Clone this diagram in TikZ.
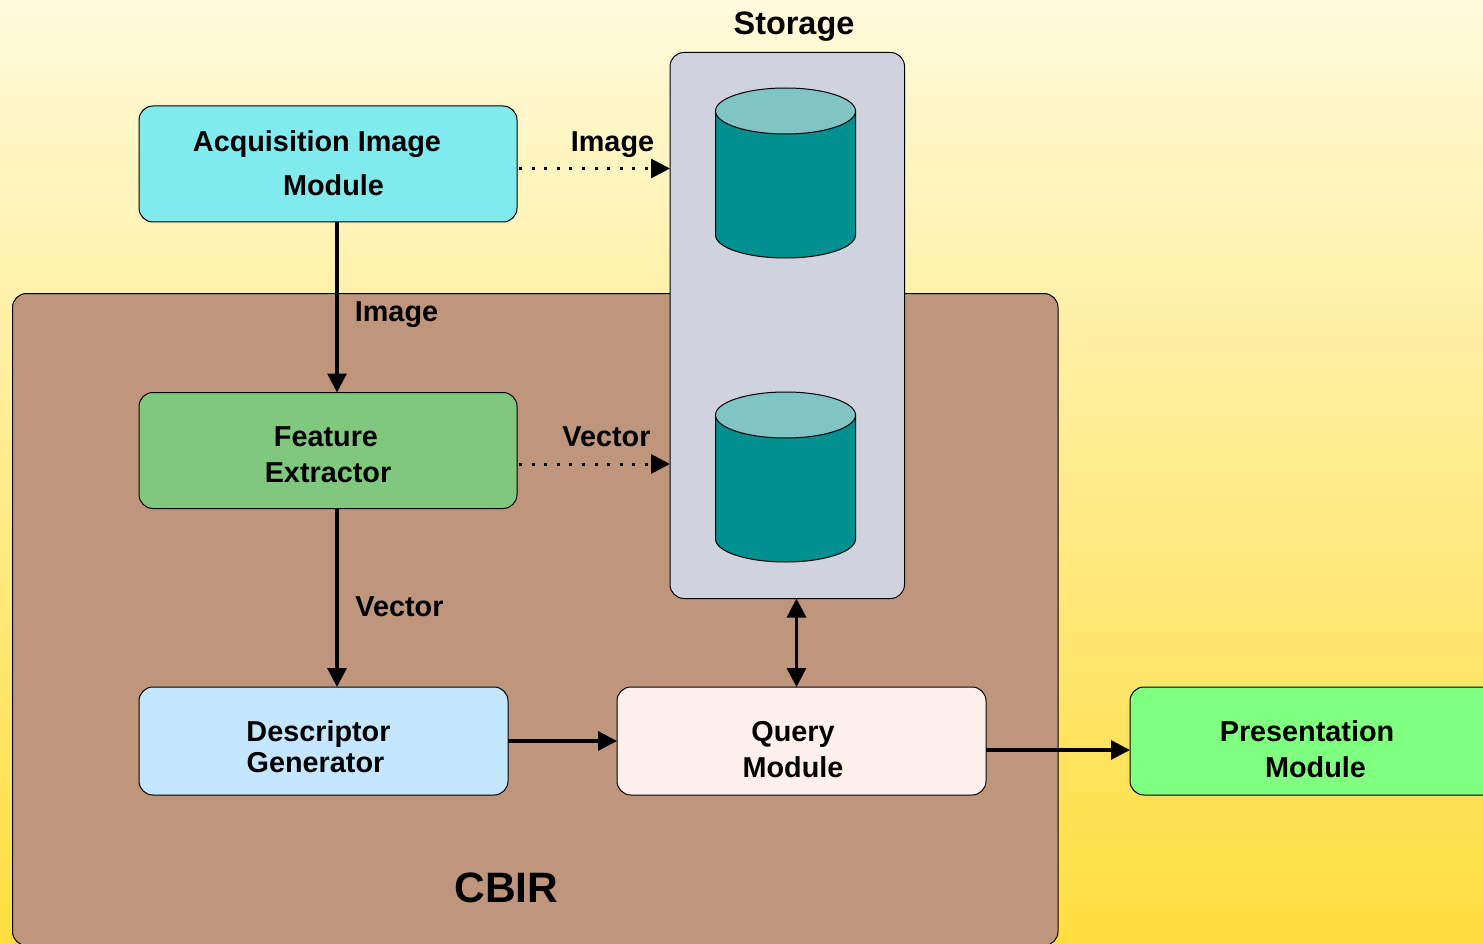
\documentclass[tikz,border=0pt]{standalone}
\usepackage{fontspec}
\setmainfont{Liberation Sans}
\usetikzlibrary{arrows.meta,calc}
\definecolor{bgtop}{HTML}{FFFADC}
\definecolor{bgbot}{HTML}{FFDD3E}
\definecolor{cbirc}{HTML}{BF967C}
\definecolor{storec}{HTML}{D0D3DE}
\definecolor{acqc}{HTML}{80EAEC}
\definecolor{featc}{HTML}{80C87E}
\definecolor{descc}{HTML}{C4E6FF}
\definecolor{queryc}{HTML}{FFF0EE}
\definecolor{presc}{HTML}{80FF80}
\definecolor{cylc}{HTML}{009090}
\definecolor{cyltop}{HTML}{80C4C4}
\tikzset{
  panel/.style={draw=black,line width=1pt,rounded corners=14pt,outer sep=0pt,inner sep=0pt},
  txt/.style={font=\bfseries\fontsize{28.8}{34}\selectfont,anchor=base,inner sep=0pt,text=black},
  flow/.style={line width=3.3pt,-{Triangle[length=19pt,width=19pt]}},
  flowboth/.style={line width=3.3pt,{Triangle[length=19pt,width=19pt]}-{Triangle[length=19pt,width=19pt]}},
  dots/.style={line width=3pt,dash pattern=on 3pt off 9.6pt,-{Triangle[length=19pt,width=19pt]}},
  cylbody/.style={fill=cylc,draw=black,line width=1pt},
  cyllid/.style={fill=cyltop,draw=black,line width=1pt}
}
\newcommand{\cylinderat}[2]{%
  \path[cylbody] (#1-70,#2) -- (#1-70,#2+124) arc[x radius=70,y radius=23,start angle=180,end angle=0] -- (#1+70,#2) -- cycle;
  \path[cyllid] (#1,#2) ellipse[x radius=70,y radius=23];
}
\begin{document}
\begin{tikzpicture}[x=1pt,y=-1pt]
\useasboundingbox (0,0) rectangle (1483,944);
\clip (0,0) rectangle (1483,944);
\shade[top color=bgtop,bottom color=bgbot] (0,0) rectangle (1483,944);
\node[panel,fill=cbirc,minimum width=1045.5pt,minimum height=652pt,anchor=north west] (cbir) at (12.5,293.5) {};
\node[panel,fill=storec,minimum width=234.5pt,minimum height=546pt,anchor=north west] (store) at (670,52.5) {};
\cylinderat{785.5}{111}
\cylinderat{785.5}{415}
\node[panel,fill=acqc,minimum width=378pt,minimum height=116pt,anchor=north west] (acq) at (139,106) {};
\node[panel,fill=featc,minimum width=378pt,minimum height=116pt,anchor=north west] (feat) at (139,392.5) {};
\node[panel,fill=descc,minimum width=369pt,minimum height=108pt,anchor=north west] (desc) at (139,687) {};
\node[panel,fill=queryc,minimum width=369pt,minimum height=108pt,anchor=north west] (query) at (617,687) {};
\node[panel,fill=presc,minimum width=380pt,minimum height=108pt,anchor=north west] (pres) at (1130,687) {};
\draw[flow] ([xshift=9pt]acq.south) -- ([xshift=9pt]feat.north);
\draw[flow] ([xshift=9pt]feat.south) -- ([xshift=13.5pt]desc.north);
\draw[flow] (desc.east) -- (query.west);
\draw[flow] ([yshift=-9pt]query.east) -- ([yshift=-9pt]query.east -| pres.west);
\draw[flowboth] ([xshift=9.25pt]store.south) -- ([xshift=-5pt]query.north);
\draw[dots] ([xshift=2pt,yshift=-4.5pt]acq.east) -- ([yshift=-4.5pt]acq.east -| store.west);
\draw[dots] ([xshift=2pt,yshift=-13.5pt]feat.east) -- ([yshift=-13.5pt]feat.east -| store.west);
\node[txt] (t1) at (317,152) {Acquisition Image};
\node[txt] (t2) at (333.5,196) {Module};
\node[txt,font=\bfseries\fontsize{32.4}{36}\selectfont] (t3) at (794,34.5) {Storage};
\node[txt] (t4) at (612.5,152) {Image};
\node[txt] (t5) at (396.5,321) {Image};
\node[txt] (t6) at (326,446) {Feature};
\node[txt] (t7) at (328,482) {Extractor};
\node[txt] (t8) at (606.5,446) {Vector};
\node[txt] (t9) at (399.5,616) {Vector};
\node[txt] (t10) at (318.5,741) {Descriptor};
\node[txt] (t11) at (315.5,772) {Generator};
\node[txt] (t12) at (793,741) {Query};
\node[txt] (t13) at (793,777) {Module};
\node[txt] (t14) at (1307,741) {Presentation};
\node[txt] (t15) at (1315.5,777) {Module};
\node[txt,font=\bfseries\fontsize{42.5}{48}\selectfont] (t16) at (506.5,902) {CBIR};
\end{tikzpicture}
\end{document}
